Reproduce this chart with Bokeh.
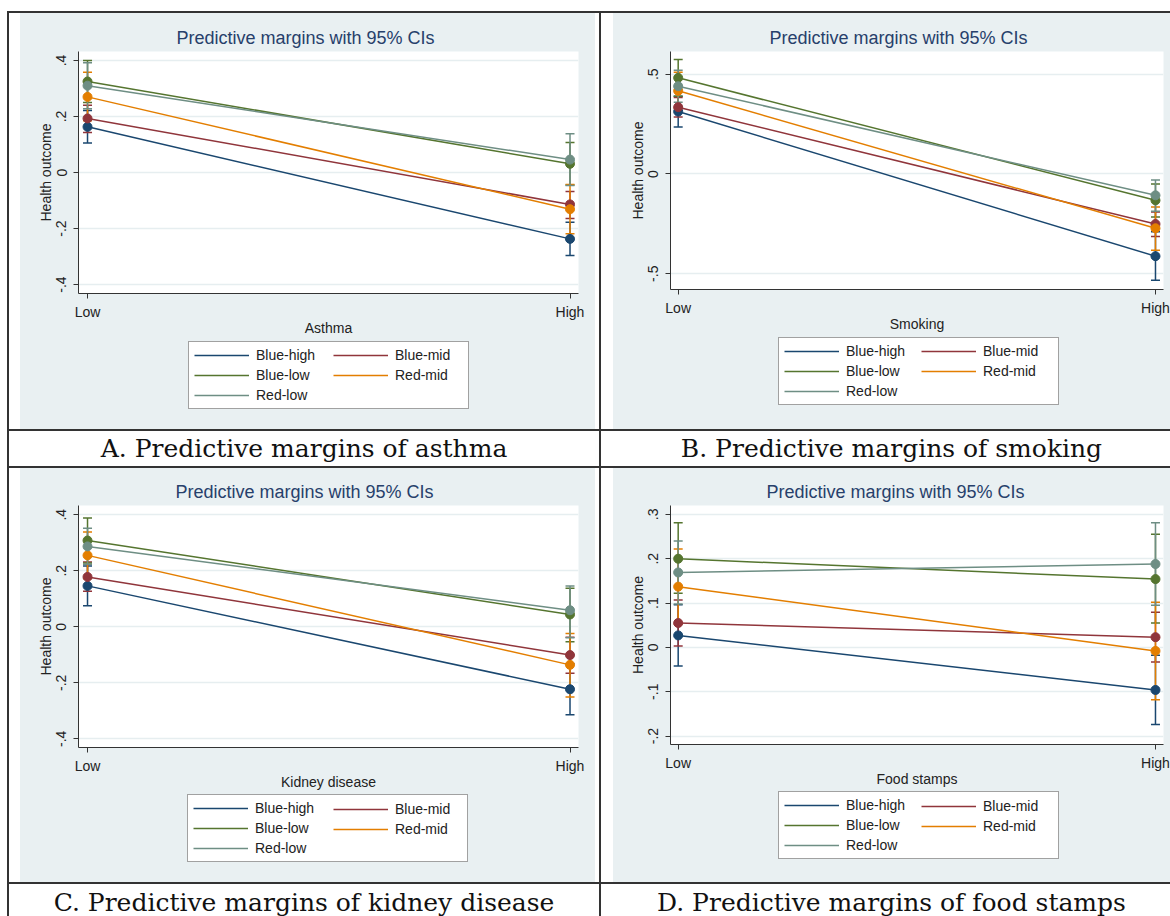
from bokeh.plotting import figure
from bokeh.models import Range1d, FixedTicker, Legend, LegendItem, Spacer, Div
from bokeh.layouts import row, column
from bokeh.embed import file_html
from bokeh.resources import INLINE

# ---------------- data ----------------
series = ["Blue-high", "Blue-mid", "Blue-low", "Red-mid", "Red-low"]
colors = ["#1a476f", "#90353b", "#55752f", "#e37e00", "#6e8e84"]
levels = ["Low", "High"]

asthma_low = [0.163, 0.193, 0.325, 0.270, 0.310]
asthma_high = [-0.237, -0.114, 0.031, -0.131, 0.046]
asthma_low_lo = [0.105, 0.143, 0.250, 0.185, 0.228]
asthma_low_hi = [0.221, 0.240, 0.400, 0.358, 0.392]
asthma_high_lo = [-0.296, -0.164, -0.045, -0.219, -0.046]
asthma_high_hi = [-0.178, -0.068, 0.107, -0.043, 0.138]

smoking_low = [0.313, 0.335, 0.482, 0.417, 0.440]
smoking_high = [-0.412, -0.251, -0.132, -0.272, -0.107]
smoking_low_lo = [0.236, 0.286, 0.390, 0.330, 0.360]
smoking_low_hi = [0.390, 0.384, 0.574, 0.510, 0.520]
smoking_high_lo = [-0.533, -0.313, -0.215, -0.382, -0.187]
smoking_high_hi = [-0.290, -0.190, -0.050, -0.165, -0.030]

kidney_low = [0.146, 0.178, 0.308, 0.255, 0.287]
kidney_high = [-0.223, -0.101, 0.044, -0.136, 0.059]
kidney_low_lo = [0.075, 0.127, 0.228, 0.172, 0.223]
kidney_low_hi = [0.217, 0.231, 0.388, 0.338, 0.352]
kidney_high_lo = [-0.314, -0.166, -0.053, -0.251, -0.039]
kidney_high_hi = [-0.132, -0.037, 0.138, -0.024, 0.146]

food_low = [0.027, 0.055, 0.200, 0.137, 0.169]
food_high = [-0.096, 0.023, 0.154, -0.008, 0.188]
food_low_lo = [-0.042, 0.003, 0.122, 0.052, 0.098]
food_low_hi = [0.096, 0.107, 0.281, 0.222, 0.240]
food_high_lo = [-0.174, -0.033, 0.055, -0.118, 0.095]
food_high_hi = [-0.018, 0.079, 0.255, 0.102, 0.281]

ticks_a = [-0.4, -0.2, 0.0, 0.2, 0.4]
labels_a = ["-.4", "-.2", "0", ".2", ".4"]
ticks_b = [-0.5, 0.0, 0.5]
labels_b = ["-.5", "0", ".5"]
ticks_c = [-0.4, -0.2, 0.0, 0.2, 0.4]
labels_c = ["-.4", "-.2", "0", ".2", ".4"]
ticks_d = [-0.2, -0.1, 0.0, 0.1, 0.2, 0.3]
labels_d = ["-.2", "-.1", "0", ".1", ".2", ".3"]

captions = ["A. Predictive margins of asthma", "B. Predictive margins of smoking",
            "C. Predictive margins of kidney disease", "D. Predictive margins of food stamps"]
xlabels = ["Asthma", "Smoking", "Kidney disease", "Food stamps"]
chart_title = "Predictive margins with 95% CIs"

# ---------------- style ----------------
PANEL_BG = "#e9f0f2"
GRID = "#e6eef0"
LINE = "#333333"
SANS = "Liberation Sans"
TXT = "#222222"
TITLE_C = "#27406b"

level_x = list(range(len(levels)))
col1_idx = [0, 2, 4]   # legend column 1: Blue-high, Blue-low, Red-low
col2_idx = [1, 3]      # legend column 2: Blue-mid, Red-mid


def make_legend(items, loc, label_width, boxed):
    return Legend(items=items, location=loc, orientation="vertical",
                  glyph_width=55, glyph_height=16, label_height=16, label_width=label_width,
                  label_standoff=7, spacing=4, padding=5, margin=0,
                  label_text_font=SANS, label_text_font_size="14px", label_text_color=TXT,
                  border_line_color="#444444" if boxed else None, border_line_width=1,
                  background_fill_color="white", background_fill_alpha=1.0 if boxed else 0.0)


def chart(width, height, borders, xr, yr, ticks, tick_labels, xlabel,
          low, high, low_lo, low_hi, high_lo, high_hi, title_offset):
    ml, mr, mt, mb = borders
    p = figure(width=width, height=height, x_range=Range1d(*xr), y_range=Range1d(*yr),
               toolbar_location=None, output_backend="svg",
               min_border_left=ml, min_border_right=mr, min_border_top=mt, min_border_bottom=mb,
               border_fill_color=PANEL_BG, background_fill_color="white",
               outline_line_color=None, title=chart_title)
    p.title.align = "left"
    p.title.text_font = SANS
    p.title.text_font_size = "18px"
    p.title.text_font_style = "normal"
    p.title.text_color = TITLE_C
    p.title.offset = title_offset
    p.title.standoff = 7

    for ax in (p.xaxis[0], p.yaxis[0]):
        ax.axis_line_color = LINE
        ax.major_tick_line_color = LINE
        ax.major_tick_out = 5
        ax.major_tick_in = 0
        ax.minor_tick_out = 0
        ax.minor_tick_in = 0
        ax.major_label_text_font = SANS
        ax.major_label_text_font_size = "14px"
        ax.major_label_text_color = TXT
        ax.axis_label_text_font = SANS
        ax.axis_label_text_font_size = "14px"
        ax.axis_label_text_font_style = "normal"
        ax.axis_label_text_color = TXT

    p.xaxis.major_label_standoff = 5
    p.xaxis.axis_label_standoff = -3
    p.yaxis.major_label_standoff = 7
    p.yaxis.axis_label_standoff = 0

    p.xaxis.ticker = FixedTicker(ticks=level_x)
    p.xaxis.major_label_overrides = {float(x): l for x, l in zip(level_x, levels)}
    p.xaxis.axis_label = xlabel
    p.yaxis.ticker = FixedTicker(ticks=ticks)
    p.yaxis.major_label_overrides = dict(zip(ticks, tick_labels))
    p.yaxis.major_label_orientation = "vertical"
    p.yaxis.axis_label = "Health outcome"
    p.xgrid.visible = False
    p.ygrid.grid_line_color = GRID
    p.ygrid.grid_line_width = 1.5

    for i, name in enumerate(series):
        c = colors[i]
        lo = [low_lo[i], high_lo[i]]
        hi = [low_hi[i], high_hi[i]]
        p.segment(x0=level_x, y0=lo, x1=level_x, y1=hi, line_color=c, line_width=1.5)
        p.scatter(x=level_x + level_x, y=lo + hi, marker="dash", size=9,
                  line_color=c, line_width=1.5)
    for i, name in enumerate(series):
        c = colors[i]
        ys = [low[i], high[i]]
        p.line(level_x, ys, line_color=c, line_width=1.5)
        p.scatter(level_x, ys, size=9, fill_color=c, line_color=c)
    return p


def legend_fig(width, height, leg1_loc, leg2_loc, low, high):
    # strip below the chart that holds the legend; its view range lies beyond the
    # series' x-values, so the key lines only show up as legend glyphs
    f = figure(width=width, height=height, x_range=Range1d(2, 3), y_range=Range1d(0, 1),
               toolbar_location=None, output_backend="svg", title=None,
               x_axis_location=None, y_axis_location=None, min_border=0,
               outline_line_color=None, background_fill_color=PANEL_BG,
               border_fill_color=PANEL_BG)
    f.grid.visible = False
    keys = [f.line(level_x, [low[i], high[i]], line_color=c, line_width=1.5)
            for i, c in enumerate(colors)]
    leg1 = make_legend([LegendItem(label=series[i], renderers=[keys[i]]) for i in col1_idx],
                       leg1_loc, 207, True)
    leg2 = make_legend([LegendItem(label=series[i], renderers=[keys[i]]) for i in col2_idx],
                       leg2_loc, 60, False)
    f.add_layout(leg1)
    f.add_layout(leg2)
    return f


cA = chart(575, 325, (58, 17, 38, 43), (-0.0187, 1.0176), (-0.432, 0.432),
           ticks_a, labels_a, xlabels[0], asthma_low, asthma_high,
           asthma_low_lo, asthma_low_hi, asthma_high_lo, asthma_high_hi, 98)
lA = legend_fig(575, 91, (110, 20), (255, 46), asthma_low, asthma_high)
cB = chart(557, 321, (57, 7, 38, 42), (-0.0161, 1.0168), (-0.579, 0.614),
           ticks_b, labels_b, xlabels[1], smoking_low, smoking_high,
           smoking_low_lo, smoking_low_hi, smoking_high_lo, smoking_high_hi, 99)
lB = legend_fig(557, 95, (108, 24), (251, 50), smoking_low, smoking_high)
cC = chart(575, 324, (58, 17, 37, 44), (-0.0187, 1.0176), (-0.431, 0.433),
           ticks_c, labels_c, xlabels[2], kidney_low, kidney_high,
           kidney_low_lo, kidney_low_hi, kidney_high_lo, kidney_high_hi, 97)
lC = legend_fig(575, 90, (109, 20), (255, 45), kidney_low, kidney_high)
cD = chart(557, 321, (57, 7, 37, 43), (-0.0161, 1.0168), (-0.219, 0.320),
           ticks_d, labels_d, xlabels[3], food_low, food_high,
           food_low_lo, food_low_hi, food_high_lo, food_high_hi, 96)
lD = legend_fig(557, 93, (108, 23), (251, 48), food_low, food_high)


def bar(w, h):
    return Div(text="", width=w, height=h, margin=0,
               styles={"background-color": LINE})


def gap(w, h):
    return Spacer(width=w, height=h, margin=0)


def caption(w, h, text, shift, line_h):
    html = ('<div style="font-family:\'DejaVu Serif\'; font-size:25px; color:#111111; '
            'text-align:center; white-space:nowrap; line-height:%dpx; position:relative; '
            'left:%dpx; width:%dpx;">%s</div>' % (line_h, shift, w, text))
    return Div(text=html, width=w, height=h, margin=0,
               styles={"overflow": "hidden", "background-color": "white"})


def cell(c, l):
    return column(c, l, styles={"background-color": PANEL_BG})


row1 = row(gap(7, 416), bar(2, 416), gap(11, 416), cell(cA, lA),
           gap(4, 416), bar(2, 416), gap(12, 416), cell(cB, lB))
cap1 = row(gap(7, 35), bar(2, 35), caption(590, 35, captions[0], 0, 35),
           bar(2, 35), caption(569, 35, captions[1], 6, 35))
row2 = row(gap(7, 414), bar(2, 414), gap(11, 414), cell(cC, lC),
           gap(4, 414), bar(2, 414), gap(12, 414), cell(cD, lD))
cap2 = row(gap(7, 32), bar(2, 32), caption(590, 32, captions[2], 0, 38),
           bar(2, 32), caption(569, 32, captions[3], 6, 38))


def hline():
    return row(gap(7, 2), bar(1163, 2))


layout = column(gap(1170, 11), hline(), row1, hline(), cap1,
                hline(), row2, hline(), cap2)

open("out.html", "w").write(file_html(layout, INLINE))
